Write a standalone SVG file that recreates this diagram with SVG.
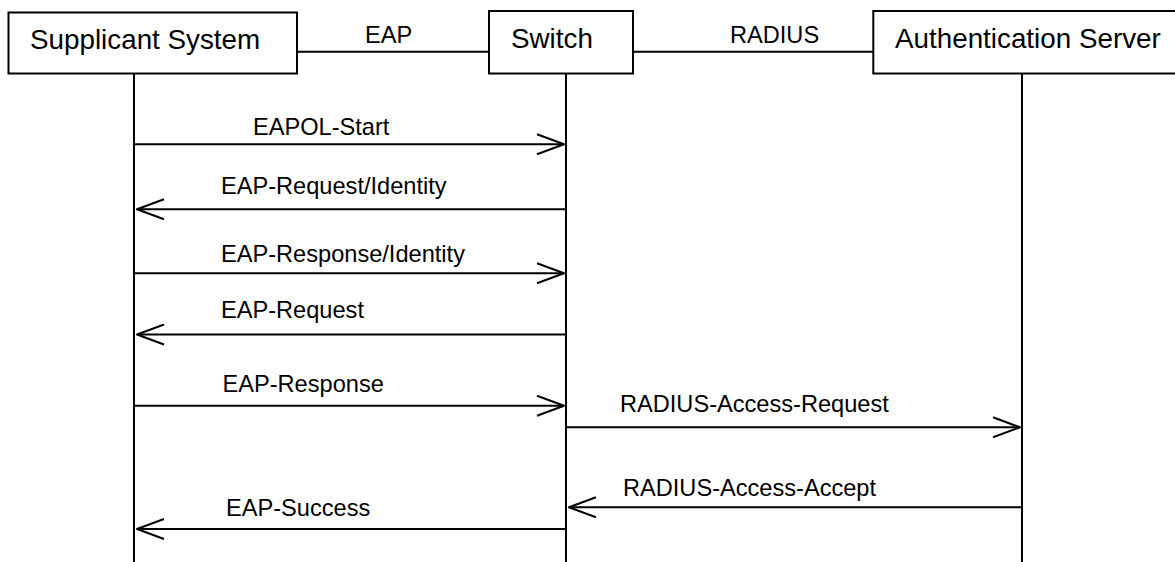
<svg xmlns="http://www.w3.org/2000/svg" width="1175" height="562" viewBox="0 0 1175 562">
<style>
.box{fill:#fff;stroke:#000;stroke-width:2}
.ln{stroke:#000;stroke-width:2;fill:none}
.nt{font-family:"Liberation Sans",Arial,sans-serif;font-size:27.8px;fill:#000}
.lt{font-family:"Liberation Sans",Arial,sans-serif;font-size:23.6px;fill:#000}
</style>
<defs>
<marker id="ah" viewBox="0 0 30 22" markerWidth="30" markerHeight="22" refX="28" refY="11" orient="auto" markerUnits="userSpaceOnUse">
<path d="M1,1 L28,11 L1,21" fill="none" stroke="#000" stroke-width="2" stroke-linejoin="round"/>
</marker>
</defs>
<g id="connectors">
<line class="ln" x1="297" y1="51.7" x2="489" y2="51.7"/>
<line class="ln" x1="633" y1="51.7" x2="873" y2="51.7"/>
<text class="lt" x="365" y="43.3">EAP</text>
<text class="lt" x="730" y="43.3">RADIUS</text>
<line class="ln" x1="134" y1="73.5" x2="134" y2="562"/>
<line class="ln" x1="566" y1="73.5" x2="566" y2="562"/>
<line class="ln" x1="1022" y1="73.5" x2="1022" y2="562"/>
<line class="ln" x1="134" y1="144.3" x2="564" y2="144.3" marker-end="url(#ah)"/>
<text class="lt" x="253" y="135">EAPOL-Start</text>
<line class="ln" x1="566" y1="209.3" x2="137" y2="209.3" marker-end="url(#ah)"/>
<text class="lt" x="221" y="193.5">EAP-Request/Identity</text>
<line class="ln" x1="134" y1="273.3" x2="564" y2="273.3" marker-end="url(#ah)"/>
<text class="lt" x="221" y="262">EAP-Response/Identity</text>
<line class="ln" x1="566" y1="334.5" x2="137" y2="334.5" marker-end="url(#ah)"/>
<text class="lt" x="221" y="318.3">EAP-Request</text>
<line class="ln" x1="134" y1="405.7" x2="564" y2="405.7" marker-end="url(#ah)"/>
<text class="lt" x="222.5" y="391.7">EAP-Response</text>
<line class="ln" x1="566" y1="427.3" x2="1020" y2="427.3" marker-end="url(#ah)"/>
<text class="lt" x="620" y="411.7">RADIUS-Access-Request</text>
<line class="ln" x1="1022" y1="507.3" x2="569" y2="507.3" marker-end="url(#ah)"/>
<text class="lt" x="623" y="496">RADIUS-Access-Accept</text>
<line class="ln" x1="566" y1="529" x2="137" y2="529" marker-end="url(#ah)"/>
<text class="lt" x="226" y="515.7">EAP-Success</text>
</g>
<g id="supplicant">
<rect class="box" x="8.5" y="12.5" width="288.5" height="61"/>
<text class="nt" x="30" y="49.3">Supplicant System</text>
</g>
<g id="switch">
<rect class="box" x="489" y="11" width="144" height="62.5"/>
<text class="nt" x="511" y="48">Switch</text>
</g>
<g id="authserver">
<rect class="box" x="873.3" y="11" width="310" height="62.5"/>
<text class="nt" x="895" y="48">Authentication Server</text>
</g>
</svg>
